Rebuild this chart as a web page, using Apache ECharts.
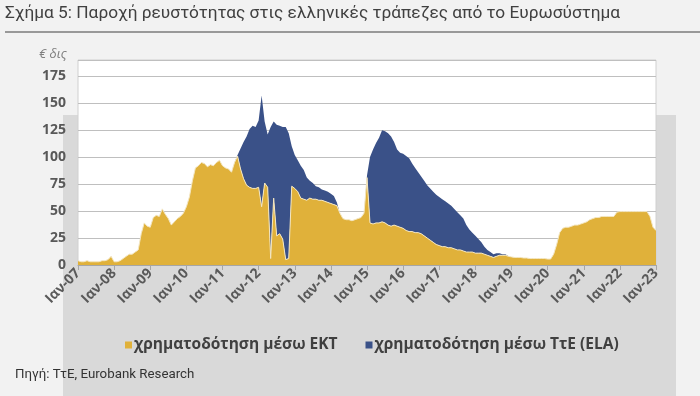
<!DOCTYPE html>
<html>
<head>
<meta charset="utf-8">
<script src="https://cdn.jsdelivr.net/npm/echarts@6/dist/echarts.min.js"></script>
<style>
html,body{margin:0;padding:0;background:#f2f2f2;}
#chart{width:700px;height:396px;}
</style>
</head>
<body>
<div id="chart"></div>
<script>
// Monthly data, Jan 2007 .. Jan 2023 (193 months), € bn
var monthNames = ['Ιαν','Φεβ','Μαρ','Απρ','Μαϊ','Ιουν','Ιουλ','Αυγ','Σεπ','Οκτ','Νοε','Δεκ'];
var startYear = 2007;
var endYear = 2023;
var yTicks = [0, 25, 50, 75, 100, 125, 150, 175];

// χρηματοδότηση μέσω ΕΚΤ
var ecb = [
  4,3,3,4,3,3,3,3,4,4,5,8,              // 2007
  3,3,4,6,8,10,10,12,14,29,39,36,       // 2008
  35,44,46,45,52,47,43,37,40,43,45,48,  // 2009
  54,63,78,90,92,95,94,91,93,92,95,97,  // 2010
  92,90,89,86,95,101,89,80,74,72,71,71, // 2011
  72,54,76,72,6,62,27,29,24,5,6,73,     // 2012
  71,68,62,61,60,62,61,61,60,60,59,58,  // 2013
  57,56,55,48,43,42,42,41,42,43,44,48,  // 2014
  81,39,38,39,39,40,39,37,36,37,36,35,  // 2015
  34,32,31,31,30,30,29,27,25,23,21,19,  // 2016
  18,17,17,16,16,15,14,14,13,12,12,12,  // 2017
  11,11,11,10,9,8,7,8,9,9,9,8,          // 2018
  7.5,7,7,7,6.5,6.5,6,6,6,6,6,6,        // 2019
  5.5,5.5,10,19,30,34,35,35,36,37,37,38,// 2020
  39,40,42,43,44,44,45,45,45,45,45,49,  // 2021
  49.5,49.5,49.5,49.5,49.5,49.5,49.5,49.5,49.5,49.5,45,35, // 2022
  32                                    // Jan 2023
];

// χρηματοδότηση μέσω ΤτΕ (ELA)
var ela = [
  0,0,0,0,0,0,0,0,0,0,0,0,              // 2007
  0,0,0,0,0,0,0,0,0,0,0,0,              // 2008
  0,0,0,0,0,0,0,0,0,0,0,0,              // 2009
  0,0,0,0,0,0,0,0,0,0,0,0,              // 2010
  0,0,0,0,0,1,19,34,45,54,58,57,        // 2011
  62,103,57,49,122,71,103,100,104,123,116,37, // 2012
  31,29,30,27,21,16,15,12,12,10,10,10,  // 2013
  9,8,3,0,0,0,0,0,0,0,0,0,              // 2014
  2,61,69,74,79,85,85,85,83,77,71,69,   // 2015
  69,69,68,63,60,56,53,51,49,48,47,46,  // 2016
  45,44,42,41,39,37,35,32,30,25,21,18,  // 2017
  16,13,10,7,5,4,3,3,2,1,1,0,           // 2018
  0,0,0,0,0,0,0,0,0,0,0,0,              // 2019
  0,0,0,0,0,0,0,0,0,0,0,0,              // 2020
  0,0,0,0,0,0,0,0,0,0,0,0,              // 2021
  0,0,0,0,0,0,0,0,0,0,0,0,              // 2022
  0                                     // Jan 2023
];

var seriesNames = ['χρηματοδότηση μέσω ΕΚΤ', 'χρηματοδότηση μέσω ΤτΕ (ELA)'];

var categories = [];
for (var y = startYear; y <= endYear; y++) {
  for (var mo = 0; mo < 12; mo++) {
    if (y === endYear && mo > 0) break;
    categories.push(monthNames[mo] + '-' + String(y).slice(2));
  }
}

var chart = echarts.init(document.getElementById('chart'), null, {renderer: 'canvas'});
var labelFont = 'Open Sans, Noto Sans, sans-serif';
chart.setOption({
  backgroundColor: '#f2f2f2',
  animation: false,
  graphic: [
    {type: 'rect', z: -100, shape: {x: 63, y: 115, width: 613, height: 281}, style: {fill: '#d9d9d9'}},
    {type: 'text', left: 5, top: 5, z: 10, style: {text: 'Σχήμα 5: Παροχή ρευστότητας στις ελληνικές τράπεζες από το Ευρωσύστημα', fill: '#404040', font: '17.3px Roboto, sans-serif'}},
    {type: 'line', z: 10, shape: {x1: 5, y1: 32, x2: 700, y2: 32}, style: {stroke: '#404040', lineWidth: 1.2}},
    {type: 'text', left: 39, top: 48, z: 10, style: {text: '€ δις', fill: '#7f7f7f', font: 'italic 13px ' + labelFont}},
    {type: 'text', left: 15, top: 368, z: 10, style: {text: 'Πηγή: ΤτΕ, Eurobank Research', fill: '#333333', font: '13.3px Roboto, sans-serif'}}
  ],
  grid: {left: 78, right: 44, top: 60, bottom: 131, show: true, backgroundColor: '#ffffff', borderColor: '#d0d0d0', borderWidth: 1},
  legend: {
    left: 120, top: 332, itemWidth: 7, itemHeight: 7, itemGap: 28, icon: 'rect',
    textStyle: {color: '#404040', fontSize: 15.5, fontWeight: 'bold', fontFamily: labelFont, padding: [0,0,0,-3]},
    data: seriesNames
  },
  xAxis: {
    type: 'category', data: categories, boundaryGap: false,
    axisLine: {lineStyle: {color: '#a6a6a6'}},
    axisTick: {interval: function (i) { return i % 12 === 0; }, length: 5, lineStyle: {color: '#a6a6a6'}},
    axisLabel: {
      interval: function (i) { return i % 12 === 0; },
      rotate: 45, color: '#595959', fontSize: 14, fontWeight: 'bold', fontFamily: labelFont, margin: 6
    },
    splitLine: {show: false}
  },
  yAxis: {
    type: 'value', min: 0, max: 190, interval: 25,
    axisLine: {show: false}, axisTick: {show: false},
    axisLabel: {color: '#595959', fontSize: 14, fontWeight: 'bold', fontFamily: labelFont, margin: 12,
      formatter: function (v) { return yTicks.indexOf(v) >= 0 ? String(v) : ''; }},
    splitLine: {lineStyle: {color: '#bfbfbf', width: 1}}
  },
  series: [
    {name: seriesNames[0], type: 'line', stack: 'total', data: ecb, symbol: 'none', z: 3,
      itemStyle: {color: '#e0b13a'},
      lineStyle: {color: '#f3e6c2', width: 1},
      areaStyle: {color: '#e0b13a', opacity: 1}},
    {name: seriesNames[1], type: 'line', stack: 'total', data: ela, symbol: 'none', z: 2,
      itemStyle: {color: '#3a5188'},
      lineStyle: {width: 0},
      areaStyle: {color: '#3a5188', opacity: 1}}
  ]
});
</script>
</body>
</html>
